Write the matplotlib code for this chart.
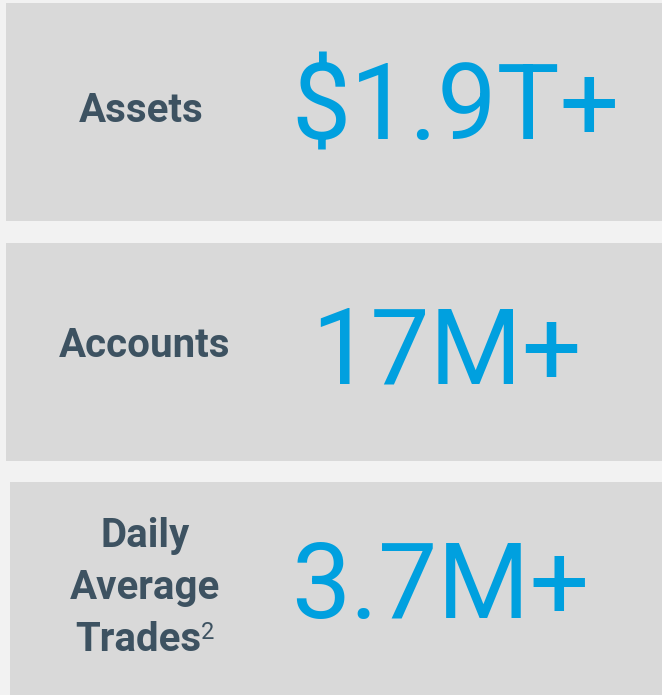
import matplotlib
matplotlib.use("Agg")
import matplotlib.pyplot as plt
from matplotlib.patches import Rectangle

labels = ["Assets", "Accounts", "Daily\nAverage\nTrades"]
label_sup = ["", "", "2"]
values = ["$1.9T+", "17M+", "3.7M+"]

BG = "#f2f2f2"
PANEL = "#d9d9d9"
LABEL_C = "#3d5261"
VALUE_C = "#00a0df"

W, H = 662, 695
fig = plt.figure(figsize=(W / 100, H / 100), dpi=100, facecolor=BG)
ax = fig.add_axes([0, 0, 1, 1])
ax.set_xlim(0, W)
ax.set_ylim(H, 0)
ax.axis("off")

panels = [(6, 3, 662, 221), (6, 243, 662, 461), (10, 482, 662, 700)]
label_x = [141, 145, 145]
label_base = [122, 357, 547]
line_step = 52
value_pos = [(456, 139), (447, 383), (440, 618)]

LFONT = dict(fontsize=29, fontweight="bold", family="Roboto", color=LABEL_C)
VFONT = dict(fontsize=76, fontweight="normal", family="Roboto", color=VALUE_C)

fig.canvas.draw()
r = fig.canvas.get_renderer()

def width_px(t):
    return t.get_window_extent(renderer=r).width

for (x0, y0, x1, y1), lab, sup, val, lx, lb, vp in zip(panels, labels, label_sup, values,
                                                      label_x, label_base, value_pos):
    ax.add_patch(Rectangle((x0, y0), x1 - x0, y1 - y0, facecolor=PANEL, edgecolor="none"))
    lines = lab.split("\n")
    for i, line in enumerate(lines):
        y = lb + i * line_step
        last = (i == len(lines) - 1) and sup
        if last:
            t = ax.text(0, y, line, ha="left", va="baseline", **LFONT)
            s = ax.text(0, y, sup, ha="left", va="baseline", fontsize=17,
                        family="Roboto", color=LABEL_C)
            wt, ws = width_px(t), width_px(s)
            left = lx - (wt + ws) / 2
            t.set_x(left)
            s.set_x(left + wt)
            s.set_y(y - 12)
        else:
            ax.text(lx, y, line, ha="center", va="baseline", **LFONT)
    ax.text(vp[0], vp[1], val, ha="center", va="baseline", **VFONT)

fig.savefig("out.png", dpi=100, facecolor=BG)
